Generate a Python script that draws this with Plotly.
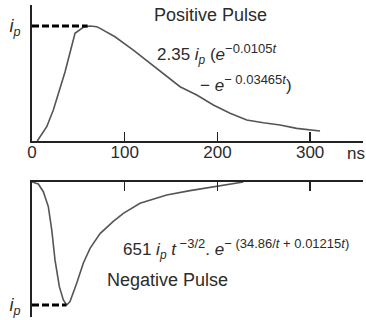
import plotly.graph_objects as go

# ---- data (t in ns, amplitude in units of i_p) ----
pos_t = [5.7, 15.9, 23, 35.6, 46.4, 55.3, 62.6, 69.8, 73.4, 89.5, 109.3, 127.3,
         145.3, 159.7, 177.7, 195.6, 213.6, 231.6, 249.5, 267.5, 285.5, 299.9, 310.7]
pos_v = [0, 0.124, 0.27, 0.60, 0.937, 0.989, 1.0, 0.994, 0.98, 0.907, 0.791, 0.676,
         0.559, 0.472, 0.40, 0.313, 0.241, 0.183, 0.159, 0.139, 0.11, 0.096, 0.087]

neg_t = [0, 6.8, 12.2, 17.6, 21.3, 24.8, 29.5, 33.8, 37.4, 41, 48.2, 55.3, 62.6,
         73.4, 87.7, 98.5, 116.5, 145.3, 170.4, 199.2, 228]
neg_v = [0, -0.016, -0.079, -0.2, -0.39, -0.634, -0.851, -0.96, -1.0, -0.973, -0.824,
         -0.661, -0.54, -0.42, -0.32, -0.255, -0.173, -0.106, -0.07, -0.033, 0]

pos_peak_t = [0, 60]
pos_peak_v = [1, 1]
neg_peak_t = [0, 37]
neg_peak_v = [-1, -1]

x_ticks = [0, 100, 200, 300]
x_ticklabels = ["0", "100", "200", "300"]

FONT = "Liberation Sans, Arial, sans-serif"
TXT = "#2b2b2b"
AX = "#222222"
CURVE = "#555555"

fig = go.Figure()
fig.add_trace(go.Scatter(x=pos_t, y=pos_v, mode="lines", line=dict(color=CURVE, width=1.6),
                         xaxis="x", yaxis="y", showlegend=False, hoverinfo="skip"))
fig.add_trace(go.Scatter(x=pos_peak_t, y=pos_peak_v, mode="lines",
                         line=dict(color="black", width=3, dash="7px,3px"),
                         xaxis="x", yaxis="y", showlegend=False, hoverinfo="skip"))
fig.add_trace(go.Scatter(x=neg_t, y=neg_v, mode="lines", line=dict(color=CURVE, width=1.6),
                         xaxis="x2", yaxis="y2", showlegend=False, hoverinfo="skip"))
fig.add_trace(go.Scatter(x=neg_peak_t, y=neg_peak_v, mode="lines",
                         line=dict(color="black", width=3, dash="7px,3px"),
                         xaxis="x2", yaxis="y2", showlegend=False, hoverinfo="skip"))

ip = "<i>i<sub>p</sub></i>"


def sup(s):
    return '<sup><span style="font-size:13px">' + s + "</span></sup>"


fig.update_layout(
    width=366, height=320,
    margin=dict(l=32, r=3, t=5, b=3, autoexpand=False),
    paper_bgcolor="white", plot_bgcolor="white",
    font=dict(family=FONT, size=17, color=TXT),
    xaxis=dict(domain=[0, 1], range=[0, 357], anchor="y", automargin=False,
               showline=True, linecolor=AX, linewidth=2,
               ticks="inside", ticklen=9, tickwidth=1.5, tickcolor=AX,
               tickvals=x_ticks, ticktext=x_ticklabels, ticklabelstandoff=-5,
               tickfont=dict(size=17),
               showgrid=False, zeroline=False),
    yaxis=dict(domain=[0.5641, 1], range=[0, 1.183], anchor="x", automargin=False,
               showline=True, linecolor=AX, linewidth=2,
               ticks="", tickvals=[1], ticktext=[ip], ticklabelstandoff=6,
               tickfont=dict(size=18),
               showgrid=False, zeroline=False),
    xaxis2=dict(domain=[0, 1], range=[0, 357], anchor="y2", side="top", automargin=False,
                showline=True, linecolor=AX, linewidth=2,
                ticks="inside", ticklen=9, tickwidth=1.5, tickcolor=AX,
                tickvals=x_ticks, showticklabels=False,
                showgrid=False, zeroline=False),
    yaxis2=dict(domain=[0, 0.4327], range=[-1.098, 0], anchor="x2", automargin=False,
                showline=True, linecolor=AX, linewidth=2,
                ticks="", tickvals=[-1], ticktext=[ip], ticklabelstandoff=6,
                tickfont=dict(size=18),
                showgrid=False, zeroline=False),
)

ann = [
    dict(x=129, y=1.096, xref="x", yref="y", text="Positive Pulse", font=dict(size=18)),
    dict(x=133, y=0.76, xref="x", yref="y",
         text="2.35 " + ip + " (<i>e</i>" + sup("−0.0105<i>t</i>")),
    dict(x=179, y=0.50, xref="x", yref="y",
         text="− <i>e</i>" + sup("− 0.03465<i>t</i>") + ")"),
    dict(x=96, y=-0.545, xref="x2", yref="y2",
         text="651 " + ip + " <i>t</i>" + sup(" −3/2") + ". <i>e</i>"
              + sup("− (34.86/<i>t</i> + 0.01215<i>t</i>)")),
    dict(x=79, y=-0.80, xref="x2", yref="y2", text="Negative Pulse", font=dict(size=18)),
    dict(x=338, y=0.5256, xref="x", yref="paper", text="ns", font=dict(size=17)),
]
for a in ann:
    fig.add_annotation(showarrow=False, xanchor="left", yanchor="middle", **a)

fig.write_html("out.html", config={"displayModeBar": False, "staticPlot": True},
               post_script="document.body.style.margin='0';document.body.style.overflow='hidden';")
